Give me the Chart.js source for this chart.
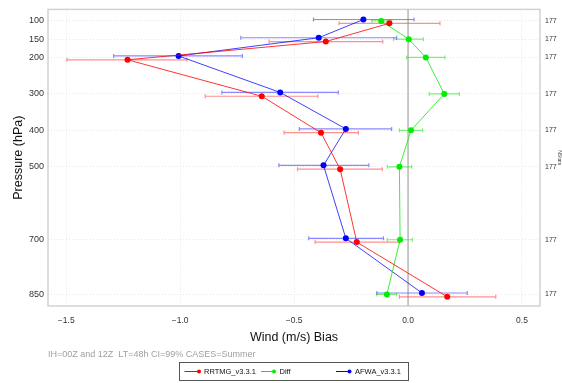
<!DOCTYPE html>
<html><head><meta charset="utf-8">
<script src="https://cdn.jsdelivr.net/npm/chart.js@4.4.0/dist/chart.umd.min.js"></script>
<style>html,body{margin:0;padding:0;background:#fff;overflow:hidden;}</style>
</head><body>
<canvas id="c" width="562" height="383" style="width:562px;height:383px;display:block"></canvas>
<script>
const levels = [100, 150, 200, 300, 400, 500, 700, 850];
const nstats = [177, 177, 177, 177, 177, 177, 177, 177];
const xTicks = [-1.5, -1.0, -0.5, 0.0, 0.5];
const seriesNames = ['RRTMG_v3.3.1', 'Diff', 'AFWA_v3.3.1'];
const rrtmg   = [-0.082, -0.361, -1.231, -0.642, -0.382, -0.298, -0.225, 0.172];
const rrtmgLo = [-0.303, -0.610, -1.497, -0.890, -0.544, -0.485, -0.408, -0.038];
const rrtmgHi = [ 0.140, -0.111, -0.970, -0.396, -0.218, -0.113, -0.038, 0.385];
const diff    = [-0.118,  0.003,  0.078,  0.159,  0.013, -0.038, -0.035, -0.093];
const diffLo  = [-0.159, -0.064, -0.006,  0.093, -0.038, -0.091, -0.091, -0.137];
const diffHi  = [-0.072,  0.067,  0.162,  0.225,  0.064,  0.016,  0.019, -0.050];
const afwa    = [-0.196, -0.392, -1.007, -0.561, -0.273, -0.371, -0.273, 0.061];
const afwaLo  = [-0.415, -0.734, -1.292, -0.817, -0.477, -0.567, -0.436, -0.137];
const afwaHi  = [ 0.026, -0.050, -0.727, -0.306, -0.072, -0.172, -0.108, 0.260];
const subtitle = 'IH=00Z and 12Z  LT=48h CI=99% CASES=Summer';

const FAM = '"Liberation Sans", Arial, Helvetica, sans-serif';
Chart.defaults.font.family = FAM;

const styles = [
  {line: 'rgba(255,0,0,0.8)', dot: '#ff0000', err: 'rgba(255,70,70,0.6)', off: 6.5},
  {line: 'rgba(40,235,40,0.9)', dot: '#00ee00', err: 'rgba(40,230,40,0.6)', off: 0},
  {line: 'rgba(0,0,255,0.75)', dot: '#0000ff', err: 'rgba(60,60,255,0.6)', off: -4}
];
const vals = [rrtmg, diff, afwa];
const los = [rrtmgLo, diffLo, afwaLo];
const his = [rrtmgHi, diffHi, afwaHi];

const datasets = vals.map((v, k) => ({
  label: seriesNames[k],
  data: levels.map((p, i) => ({x: v[i], y: p + styles[k].off})),
  showLine: true,
  borderColor: styles[k].line,
  borderWidth: 1,
  backgroundColor: styles[k].dot,
  pointBackgroundColor: styles[k].dot,
  pointBorderWidth: 0,
  pointRadius: 3,
  order: k
}));

function fmt(v) { return (v < 0 ? '\u2212' : '') + Math.abs(v).toFixed(1); }

const decor = {
  id: 'decor',
  beforeDatasetsDraw(chart) {
    const {ctx, chartArea: a, scales} = chart;
    ctx.save();
    ctx.strokeStyle = '#d2d2d2';
    ctx.lineWidth = 1.5;
    ctx.strokeRect(a.left, a.top, a.right - a.left, a.bottom - a.top);
    const x0 = scales.x.getPixelForValue(0);
    ctx.strokeStyle = '#b8b8b8';
    ctx.lineWidth = 1.5;
    ctx.beginPath(); ctx.moveTo(x0, a.top); ctx.lineTo(x0, a.bottom); ctx.stroke();
    // error bars
    for (let k = 0; k < 3; k++) {
      ctx.strokeStyle = styles[k].err;
      ctx.lineWidth = 1.2;
      levels.forEach((p, i) => {
        const y = scales.y.getPixelForValue(p + styles[k].off);
        const xl = scales.x.getPixelForValue(los[k][i]);
        const xh = scales.x.getPixelForValue(his[k][i]);
        ctx.beginPath();
        ctx.moveTo(xl, y); ctx.lineTo(xh, y);
        ctx.moveTo(xl, y - 2); ctx.lineTo(xl, y + 2);
        ctx.moveTo(xh, y - 2); ctx.lineTo(xh, y + 2);
        ctx.stroke();
      });
    }
    ctx.restore();
  },
  afterDraw(chart) {
    const {ctx} = chart;
    ctx.save();
    ctx.font = '9px ' + FAM;
    ctx.fillStyle = '#a0a0a0';
    ctx.textBaseline = 'middle';
    ctx.textAlign = 'left';
    ctx.fillText(subtitle, 48, 355);
    // legend box
    ctx.strokeStyle = '#555';
    ctx.lineWidth = 1;
    ctx.strokeRect(179.5, 362.5, 229, 18);
    const items = [[184.5, 199, 204], [261, 274, 279.5], [336, 349.5, 355]];
    ctx.font = '7.5px ' + FAM;
    items.forEach((it, k) => {
      const y = 371.5;
      ctx.strokeStyle = styles[k].dot;
      ctx.beginPath(); ctx.moveTo(it[0], y); ctx.lineTo(it[1], y); ctx.stroke();
      ctx.fillStyle = styles[k].dot;
      ctx.beginPath(); ctx.arc(it[1], y, 2, 0, Math.PI * 2); ctx.fill();
      ctx.fillStyle = '#111';
      ctx.fillText(seriesNames[k], it[2], y + 0.5);
    });
    ctx.restore();
  }
};

new Chart(document.getElementById('c'), {
  type: 'scatter',
  data: {datasets},
  plugins: [decor],
  options: {
    responsive: false,
    animation: false,
    devicePixelRatio: 1,
    layout: {padding: {top: 6, left: 0, right: 0, bottom: 0}},
    plugins: {legend: {display: false}, tooltip: {enabled: false}, title: {display: false}},
    scales: {
      x: {
        type: 'linear', position: 'bottom', min: -1.58, max: 0.579,
        afterBuildTicks: s => { s.ticks = xTicks.map(v => ({value: v})); },
        afterFit: s => { s.height = 77; },
        ticks: {font: {size: 8.5}, color: '#333', padding: 10, callback: v => fmt(v), maxRotation: 0, autoSkip: false},
        grid: {color: '#e6e6e6', lineWidth: 1, drawTicks: false, borderDash: [1, 2]},
        border: {display: false, dash: [1, 2]},
        title: {display: true, text: 'Wind (m/s) Bias', font: {size: 12.5}, color: '#111', padding: {top: 0, bottom: 38}}
      },
      y: {
        type: 'linear', position: 'left', min: 68.3, max: 881.7, reverse: true,
        afterBuildTicks: s => { s.ticks = levels.map(v => ({value: v})); },
        afterFit: s => { s.width = 48; },
        ticks: {font: {size: 9}, color: '#333', padding: 4, autoSkip: false, callback: v => String(v)},
        grid: {color: '#e6e6e6', lineWidth: 1, drawTicks: false, borderDash: [1, 2]},
        border: {display: false, dash: [1, 2]},
        title: {display: true, text: 'Pressure (hPa)', font: {size: 12.5}, color: '#111', padding: {top: 11.5, bottom: 0}}
      },
      y2: {
        type: 'linear', position: 'right', min: 68.3, max: 881.7, reverse: true,
        afterBuildTicks: s => { s.ticks = levels.map(v => ({value: v})); },
        afterFit: s => { s.width = 22; },
        ticks: {font: {size: 7}, color: '#333', padding: 5, autoSkip: false, callback: (v, i) => String(nstats[i])},
        grid: {display: false, drawTicks: false},
        border: {display: false},
        title: {display: true, text: 'NStats', font: {size: 5}, color: '#333', padding: {top: 0, bottom: 0}}
      }
    }
  }
});
</script>
</body></html>
